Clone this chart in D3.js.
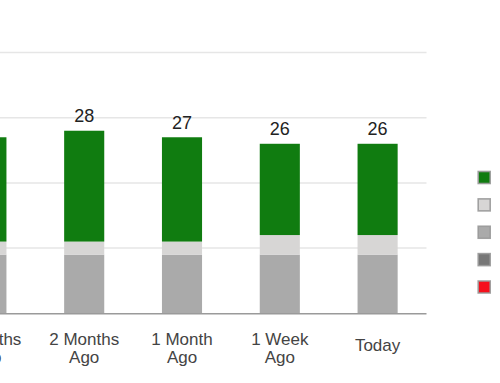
<!DOCTYPE html>
<html>
<head>
<meta charset="utf-8">
<script src="https://cdn.jsdelivr.net/npm/d3@7"></script>
<style>
  html, body { margin: 0; padding: 0; background: #fff; overflow: hidden; }
  svg { display: block; font-family: "Liberation Sans", Arial, sans-serif; }
</style>
</head>
<body>
<svg id="chart" width="500" height="383"></svg>
<script>
// ---- data ----
const categories = ["3 Months Ago", "2 Months Ago", "1 Month Ago", "1 Week Ago", "Today"];
const categoryLines = [["3 Months", "Ago"], ["2 Months", "Ago"], ["1 Month", "Ago"], ["1 Week", "Ago"], ["Today"]];
// series, bottom of stack first
const seriesKeys = ["red", "darkGray", "gray", "lightGray", "green"];
const redValues = [0, 0, 0, 0, 0];
const darkGrayValues = [0, 0, 0, 0, 0];
const grayValues = [9, 9, 9, 9, 9];
const lightGrayValues = [2, 2, 2, 3, 3];
const greenValues = [16, 17, 16, 14, 14];
const yTicks = [0, 10, 20, 30, 40];

const colors = {
  red: "#f5101c",
  darkGray: "#777777",
  gray: "#aaaaaa",
  lightGray: "#d7d6d5",
  green: "#107c10"
};

const valuesByKey = {
  red: redValues, darkGray: darkGrayValues, gray: grayValues,
  lightGray: lightGrayValues, green: greenValues
};
const table = categories.map((c, i) => {
  const row = { category: c };
  seriesKeys.forEach(k => row[k] = valuesByKey[k][i]);
  return row;
});
const totals = table.map(r => d3.sum(seriesKeys, k => r[k]));

// ---- layout ----
const svg = d3.select("#chart");
const plotLeft = -62.5, plotRight = 426.5, plotTop = 52.5, plotBottom = 313.3;

const x = d3.scaleBand().domain(categories).range([plotLeft, plotRight])
  .paddingInner(0.59).paddingOuter(0.295);
const y = d3.scaleLinear().domain([0, 40]).range([plotBottom, plotTop]);

// gridlines
svg.append("g").selectAll("line")
  .data(yTicks.filter(t => t > 0))
  .join("line")
  .attr("x1", plotLeft).attr("x2", plotRight)
  .attr("y1", d => y(d)).attr("y2", d => y(d))
  .attr("stroke", "#e6e6e6").attr("stroke-width", 1.5);

// stacked bars
const stack = d3.stack().keys(seriesKeys)(table);
svg.append("g").selectAll("g")
  .data(stack)
  .join("g")
  .attr("fill", d => colors[d.key])
  .selectAll("rect")
  .data(d => d)
  .join("rect")
  .attr("x", d => x(d.data.category))
  .attr("width", x.bandwidth())
  .attr("y", d => y(d[1]))
  .attr("height", d => Math.max(0, y(d[0]) - y(d[1])));

// baseline
svg.append("line")
  .attr("x1", plotLeft).attr("x2", plotRight)
  .attr("y1", y(0) + 0.5).attr("y2", y(0) + 0.5)
  .attr("stroke", "#9a9a9a").attr("stroke-width", 1.5);

// total labels
svg.append("g").selectAll("text")
  .data(categories)
  .join("text")
  .attr("x", d => x(d) + x.bandwidth() / 2)
  .attr("y", (d, i) => y(totals[i]) - 8.5)
  .attr("text-anchor", "middle")
  .attr("font-size", 18)
  .attr("fill", "#222222")
  .text((d, i) => totals[i]);

// x-axis labels
const xl = svg.append("g").selectAll("text")
  .data(categories)
  .join("text")
  .attr("x", d => x(d) + x.bandwidth() / 2)
  .attr("y", (d, i) => categoryLines[i].length > 1 ? 345 : 350.5)
  .attr("text-anchor", "middle")
  .attr("font-size", 17)
  .attr("fill", "#444444");
xl.each(function(d, i) {
  const t = d3.select(this);
  categoryLines[i].forEach((line, j) => {
    t.append("tspan")
      .attr("x", x(d) + x.bandwidth() / 2)
      .attr("dy", j === 0 ? 0 : 17.5)
      .text(line);
  });
});

// legend (labels fall outside the visible area)
const legendOrder = seriesKeys.slice().reverse();
const ly = d3.scalePoint().domain(legendOrder).range([177.5, 287]);
svg.append("g").selectAll("rect")
  .data(legendOrder)
  .join("rect")
  .attr("x", 478.2)
  .attr("y", d => ly(d) - 6)
  .attr("width", 12)
  .attr("height", 12)
  .attr("fill", d => colors[d])
  .attr("stroke", "#999999")
  .attr("stroke-opacity", 0.9)
  .attr("stroke-width", 1.6);
</script>
</body>
</html>
